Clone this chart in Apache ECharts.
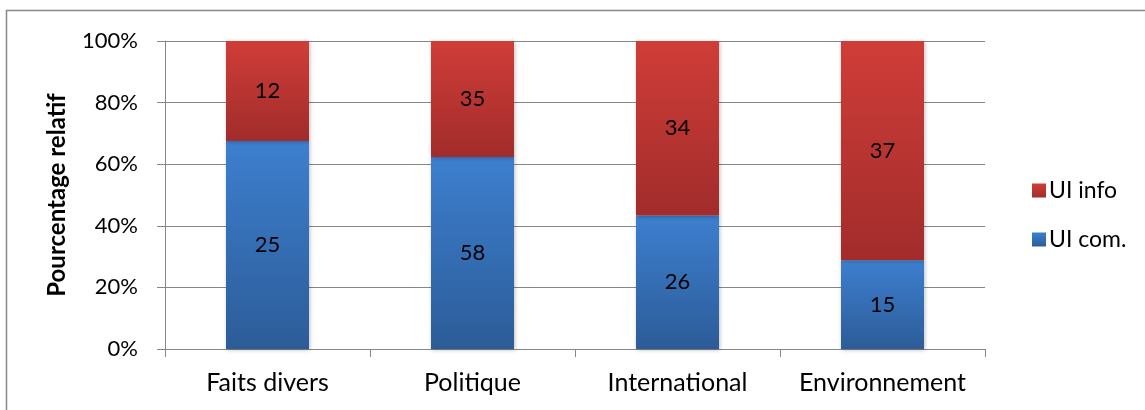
<!DOCTYPE html>
<html>
<head>
<meta charset="utf-8">
<script src="https://cdn.jsdelivr.net/npm/echarts@6/dist/echarts.min.js"></script>
<style>
html,body{margin:0;padding:0;background:#fff;}
#c{width:1145px;height:410px;}
</style>
</head>
<body>
<div id="c"></div>
<script>
const categories = ['Faits divers', 'Politique', 'International', 'Environnement'];
const uiCom = [25, 58, 26, 15];
const uiInfo = [12, 35, 34, 37];
const yTicks = [0, 20, 40, 60, 80, 100];

const comPct = uiCom.map((v, i) => v / (v + uiInfo[i]) * 100);
const infoPct = uiInfo.map((v, i) => v / (uiCom[i] + v) * 100);

const FONT = 'Lato, "Open Sans", sans-serif';
const chart = echarts.init(document.getElementById('c'), null, {renderer: 'canvas'});

function grad(top, bottom) {
  return new echarts.graphic.LinearGradient(0, 0, 0, 1, [
    {offset: 0, color: top}, {offset: 1, color: bottom}
  ]);
}

chart.setOption({
  animation: false,
  backgroundColor: '#fff',
  graphic: [{
    type: 'rect',
    shape: {x: 6.5, y: 10.5, width: 1150, height: 420},
    style: {fill: 'none', stroke: '#888888', lineWidth: 1.5},
    silent: true, z: -10
  }],
  grid: {left: 165, right: 160, top: 41, bottom: 61, containLabel: false},
  legend: {
    data: ['UI info', 'UI com.'],
    orient: 'vertical',
    left: 1027,
    top: 174,
    itemWidth: 14,
    itemHeight: 14,
    itemGap: 26,
    icon: 'rect',
    textStyle: {fontFamily: FONT, fontSize: 23, color: '#000', padding: [0, 0, 0, -2]}
  },
  xAxis: {
    type: 'category',
    data: categories,
    axisLine: {lineStyle: {color: '#868686', width: 1}},
    axisTick: {show: true, interval: 0, length: 8, lineStyle: {color: '#868686'}},
    axisLabel: {interval: 0, fontFamily: FONT, fontSize: 25, color: '#000', margin: 21}
  },
  yAxis: {
    type: 'value',
    min: 0, max: 100, interval: 20,
    name: 'Pourcentage relatif',
    nameLocation: 'middle',
    nameGap: 96,
    nameTextStyle: {fontFamily: FONT, fontSize: 24, fontWeight: 'bold', color: '#000'},
    axisLine: {show: true, lineStyle: {color: '#868686', width: 1}},
    axisTick: {show: true, length: 8, lineStyle: {color: '#868686'}},
    splitLine: {lineStyle: {color: '#868686', width: 1}},
    axisLabel: {
      fontFamily: FONT, fontSize: 22, color: '#000', margin: 27,
      formatter: v => (yTicks.includes(v) ? v + '%' : '')
    }
  },
  series: [
    {
      name: 'UI com.',
      type: 'bar',
      stack: 'total',
      barWidth: '40.5%',
      data: comPct,
      itemStyle: {
        color: grad('#3d7fcf', '#2c5c98'),
        shadowColor: 'rgba(0,0,0,0.25)', shadowBlur: 4, shadowOffsetX: 1, shadowOffsetY: 1
      },
      label: {
        show: true, position: 'inside', color: '#000',
        fontFamily: FONT, fontSize: 22,
        formatter: p => String(uiCom[p.dataIndex])
      }
    },
    {
      name: 'UI info',
      type: 'bar',
      stack: 'total',
      barWidth: '40.5%',
      data: infoPct,
      itemStyle: {
        color: grad('#d03d38', '#a12c2b'),
        shadowColor: 'rgba(0,0,0,0.25)', shadowBlur: 4, shadowOffsetX: 1, shadowOffsetY: 1
      },
      label: {
        show: true, position: 'inside', color: '#000',
        fontFamily: FONT, fontSize: 22,
        formatter: p => String(uiInfo[p.dataIndex])
      }
    }
  ]
});
</script>
</body>
</html>
